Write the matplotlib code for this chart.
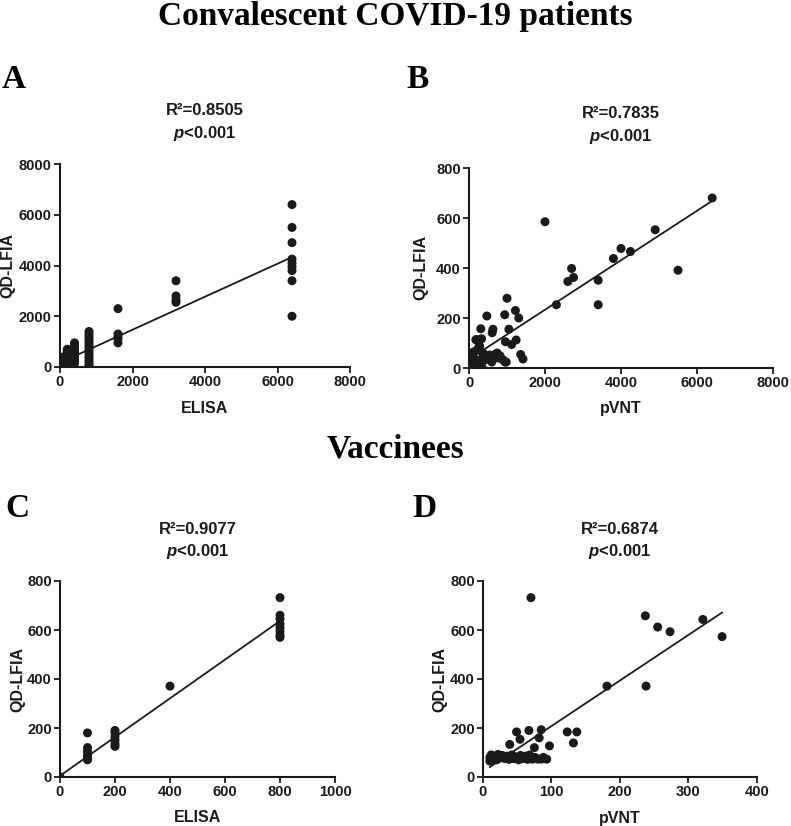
import matplotlib
matplotlib.use("Agg")
import matplotlib.pyplot as plt
import numpy as np

plt.rcParams['font.family'] = ['Liberation Sans', 'DejaVu Sans']
plt.rcParams['mathtext.fontset'] = 'custom'
plt.rcParams['mathtext.it'] = 'Liberation Sans:italic:bold'
plt.rcParams['mathtext.rm'] = 'Liberation Sans:bold'

# ---------------- data ----------------
# Panel A: convalescent, ELISA vs QD-LFIA
A_elisa = [0,
           50, 50, 50,
           100, 100, 100, 100, 100,
           200, 200, 200, 200, 200, 200, 200, 200,
           400, 400, 400, 400, 400, 400, 400, 400, 400,
           800, 800, 800, 800, 800, 800, 800, 800, 800, 800, 800, 800, 800, 800, 800,
           1600, 1600, 1600, 1600, 1600,
           3200, 3200, 3200, 3200,
           6400, 6400, 6400, 6400, 6400, 6400, 6400, 6400, 6400]
A_qd = [0,
        200, 100, 50,
        400, 300, 200, 100, 50,
        700, 620, 550, 450, 350, 250, 150, 60,
        950, 850, 750, 650, 550, 450, 350, 250, 150,
        1400, 1300, 1200, 1100, 1000, 900, 800, 700, 600, 500, 400, 300, 200, 100, 30,
        2300, 1300, 1200, 1100, 950,
        3400, 2800, 2650, 2550,
        6400, 5500, 4900, 4250, 4100, 3950, 3800, 3400, 2000]

# Panel B: convalescent, pVNT vs QD-LFIA
B_pvnt = [6400, 2000, 4900, 4000, 3800, 4250, 5500, 2700, 2750, 2600, 3400, 3400, 2300,
          1000, 940, 1220, 1310, 1050, 1240, 1120, 960, 1360, 1420, 470, 310, 630, 610,
          330, 200, 280, 260, 180, 950,
          0, 30, 100, 210, 290, 370, 470, 550, 630, 740, 820, 900, 980, 160, 240, 340,
          80, 420, 600, 760, 700, 520, 380, 120, 60, 200]
B_qd = [680, 585, 553, 478, 438, 466, 391, 398, 362, 346, 351, 253, 253,
        279, 213, 230, 200, 155, 112, 94, 105, 54, 36, 208, 157, 155, 141,
        117, 114, 87, 84, 113, 24,
        0, 4, 44, 32, 20, 60, 44, 52, 44, 60, 48, 32, 24, 12, 0, 4,
        24, 32, 24, 40, 56, 36, 48, 64, 16, 70]

# Panel C: vaccinees, ELISA vs QD-LFIA
C_elisa = [0, 100, 100, 100, 100, 100, 100,
           200, 200, 200, 200, 200, 200, 400,
           800, 800, 800, 800, 800, 800, 800, 800]
C_qd = [0, 180, 120, 105, 90, 80, 70,
        190, 180, 165, 150, 135, 125, 371,
        732, 660, 645, 625, 610, 595, 580, 570]

# Panel D: vaccinees, pVNT vs QD-LFIA
D_pvnt = [70, 237, 255, 273, 321, 349, 181, 238, 123, 137, 132, 97, 85, 67, 49, 54, 39, 82, 75,
          10, 10, 12, 15, 18, 20, 22, 25, 28, 32, 35, 38, 42, 45, 48, 52, 55, 58, 62, 65, 68,
          72, 76, 80, 85, 93, 88]
D_qd = [732, 658, 612, 593, 643, 573, 371, 371, 184, 184, 139, 127, 193, 190, 184, 154, 133, 160, 120,
        65, 80, 90, 75, 85, 70, 92, 78, 88, 75, 85, 72, 90, 75, 82, 70, 88, 75, 85, 72, 90,
        73, 80, 73, 73, 73, 80]

# regression lines (slope, intercept)
fit_A = (0.65, 170)
fit_B = (0.099, 35)
fit_C = (0.79, 5)
fit_D = (1.86, 22)

r2_labels = ["R\u00b2=0.8505", "R\u00b2=0.7835", "R\u00b2=0.9077", "R\u00b2=0.6874"]
p_label = r"$\mathit{p}$<0.001"
x_labels = ["ELISA", "pVNT", "ELISA", "pVNT"]
y_label = "QD-LFIA"
x_ticks = [[0, 2000, 4000, 6000, 8000], [0, 2000, 4000, 6000, 8000],
           [0, 200, 400, 600, 800, 1000], [0, 100, 200, 300, 400]]
y_ticks = [[0, 2000, 4000, 6000, 8000], [0, 200, 400, 600, 800],
           [0, 200, 400, 600, 800], [0, 200, 400, 600, 800]]
panel_letters = ["A", "B", "C", "D"]
section_titles = ["Convalescent COVID-19 patients", "Vaccinees"]

# ---------------- layout ----------------
W, H = 791, 826
fig = plt.figure(figsize=(W / 100, H / 100), dpi=100)

def px_rect(l, t, r, b):
    return [l / W, 1 - b / H, (r - l) / W, (b - t) / H]

rects = [px_rect(60, 164, 350, 367), px_rect(469, 168, 773, 368),
         px_rect(60, 581, 335, 777), px_rect(483, 581, 757, 777)]
ylabel_px = [8, 421, 18, 440]
xlabel_py = [408, 408, 818, 818]
r2_py = [115, 118, 534, 534]
p_py = [138, 141, 556, 556]
letter_pos = [(14, 88), (418, 88), (17, 517), (425, 517)]

data = [(A_elisa, A_qd, fit_A), (B_pvnt, B_qd, fit_B),
        (C_elisa, C_qd, fit_C), (D_pvnt, D_qd, fit_D)]

ink = '#1a1a1a'
for i, (xs, ys, fit) in enumerate(data):
    ax = fig.add_axes(rects[i])
    xs = np.array(xs, dtype=float)
    ys = np.array(ys, dtype=float)
    ax.scatter(xs, ys, s=42, color=ink, edgecolors='none', zorder=3)
    xl = np.array([xs.min(), xs.max()])
    ax.plot(xl, fit[0] * xl + fit[1], color=ink, lw=1.3, zorder=2)
    ax.set_xlim(x_ticks[i][0], x_ticks[i][-1])
    ax.set_ylim(y_ticks[i][0], y_ticks[i][-1])
    ax.set_xticks(x_ticks[i])
    ax.set_yticks(y_ticks[i])
    for s in ['top', 'right']:
        ax.spines[s].set_visible(False)
    for s in ['left', 'bottom']:
        ax.spines[s].set_linewidth(1.5)
        ax.spines[s].set_color(ink)
    ax.tick_params(direction='out', length=4.5, width=1.3, colors=ink,
                   labelsize=10.5, pad=1.5)
    for lab in ax.get_xticklabels() + ax.get_yticklabels():
        lab.set_fontweight('bold')
    l, t, r, b = [rects[i][0] * W, (1 - rects[i][1] - rects[i][3]) * H,
                  (rects[i][0] + rects[i][2]) * W, (1 - rects[i][1]) * H]
    cx = (l + r) / 2
    fig.text(cx / W, 1 - xlabel_py[i] / H, x_labels[i], ha='center', va='center',
             fontsize=11.5, fontweight='bold', color=ink)
    fig.text(ylabel_px[i] / W, 1 - (t + b) / 2 / H, y_label, ha='center', va='center',
             rotation=90, fontsize=11.5, fontweight='bold', color=ink)
    fig.text(cx / W, 1 - r2_py[i] / H, r2_labels[i], ha='center', va='baseline',
             fontsize=12, fontweight='bold', color=ink)
    fig.text(cx / W, 1 - p_py[i] / H, p_label, ha='center', va='baseline',
             fontsize=12, fontweight='bold', color=ink)
    lx, ly = letter_pos[i]
    fig.text(lx / W, 1 - ly / H, panel_letters[i], ha='center', va='baseline',
             fontsize=24, fontweight='bold', family='Liberation Serif', color='black')

fig.text(0.5, 1 - 25 / H, section_titles[0], ha='center', va='baseline',
         fontsize=24, fontweight='bold', family='Liberation Serif', color='black')
fig.text(0.5, 1 - 457 / H, section_titles[1], ha='center', va='baseline',
         fontsize=24, fontweight='bold', family='Liberation Serif', color='black')

fig.savefig('out.png', dpi=100, facecolor='white')
